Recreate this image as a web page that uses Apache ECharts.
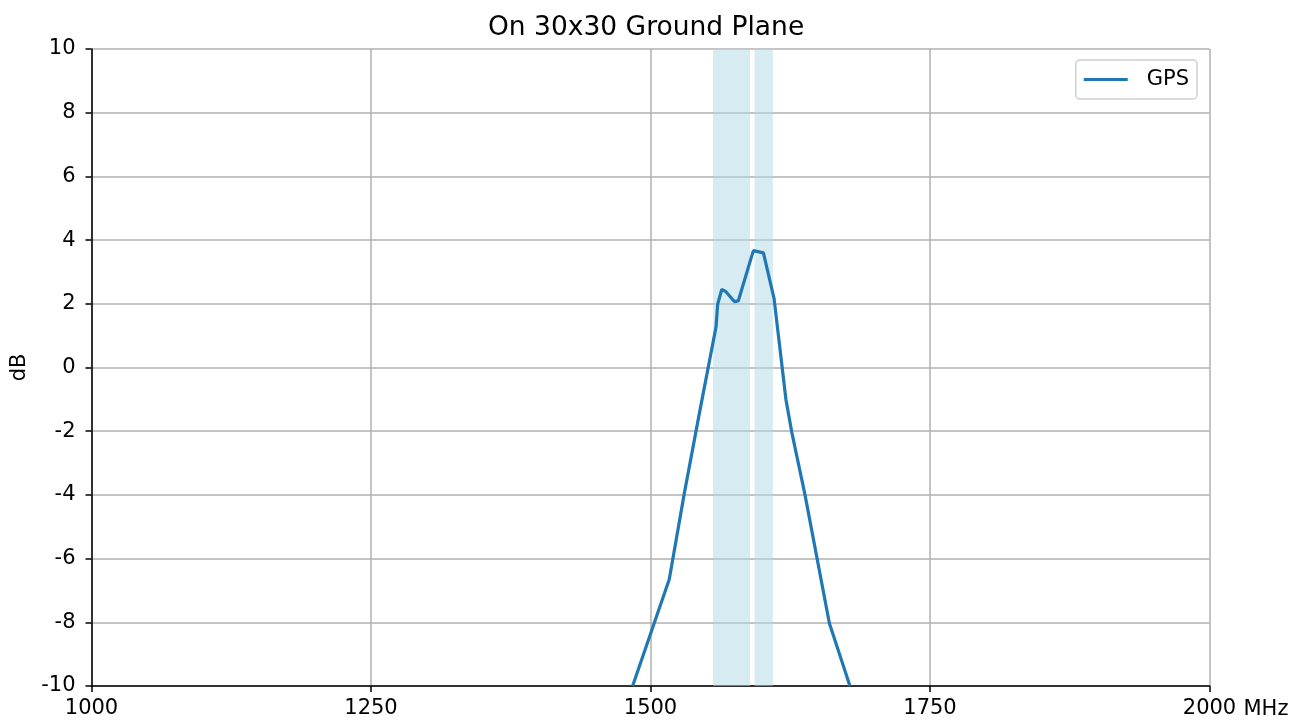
<!DOCTYPE html>
<html>
<head>
<meta charset="utf-8">
<script src="https://cdn.jsdelivr.net/npm/echarts@6/dist/echarts.min.js"></script>
<style>html,body{margin:0;padding:0;background:#fff;overflow:hidden}#c{width:100vw;height:100vh}</style>
</head>
<body>
<div id="c"></div>
<script>
const freqMHz = [1484, 1516.8, 1530, 1544.3, 1558.6, 1560.1, 1563.7, 1567.5, 1575, 1578.5, 1592, 1601, 1610.5, 1621.2, 1626.3, 1638.2, 1660, 1678.4];
const gpsDb   = [-10, -6.65, -4.0, -1.33, 1.27, 1.99, 2.45, 2.38, 2.07, 2.09, 3.67, 3.60, 2.17, -1.02, -2.02, -4.0, -8.03, -10];
const bands = [[1556, 1589], [1593, 1609.5]];
const xTicks = [1000, 1250, 1500, 1750, 2000];
const yTicks = [-10, -8, -6, -4, -2, 0, 2, 4, 6, 8, 10];

const font = 'DejaVu Sans';
const chart = echarts.init(document.getElementById('c'), null, {renderer: 'canvas'});
chart.setOption({
  animation: false,
  backgroundColor: '#fff',
  title: {
    text: 'On 30x30 Ground Plane', left: 483, top: 10,
    textStyle: {fontFamily: font, fontSize: 26.5, fontWeight: 'normal', color: '#000'}
  },
  legend: {
    data: ['GPS'], right: 109, top: 60,
    itemWidth: 44, itemHeight: 3, itemGap: 10,
    padding: [9, 8, 9, 8],
    borderColor: '#d0d0d0', borderWidth: 1.5, borderRadius: 4,
    textStyle: {fontFamily: font, fontSize: 21, color: '#000', padding: [0, 0, 0, 14]},
    icon: 'rect'
  },
  grid: {left: 91.5, right: 96.5, top: 49, bottom: 36, containLabel: false},
  xAxis: {
    type: 'value', min: xTicks[0], max: xTicks[xTicks.length - 1], interval: 250,
    name: 'MHz', nameLocation: 'end', nameGap: 34,
    nameTextStyle: {fontFamily: font, fontSize: 21, color: '#000', verticalAlign: 'top', padding: [13, 0, 0, 0]},
    axisLine: {show: true, onZero: false, lineStyle: {color: '#000', width: 1.5}},
    axisTick: {show: true, length: 6, lineStyle: {color: '#000', width: 1.5}},
    axisLabel: {fontFamily: font, fontSize: 21, color: '#000', margin: 12, formatter: v => String(v)},
    splitLine: {show: true, lineStyle: {color: '#b0b0b0', width: 1.5}}
  },
  yAxis: {
    type: 'value', min: yTicks[0], max: yTicks[yTicks.length - 1], interval: 2,
    name: 'dB', nameLocation: 'middle', nameGap: 58, nameRotate: 90,
    nameTextStyle: {fontFamily: font, fontSize: 21, color: '#000'},
    axisLine: {show: true, lineStyle: {color: '#000', width: 1.5}},
    axisTick: {show: true, length: 6, lineStyle: {color: '#000', width: 1.5}},
    axisLabel: {fontFamily: font, fontSize: 21, color: '#000', margin: 16, formatter: v => String(v)},
    splitLine: {show: true, lineStyle: {color: '#b0b0b0', width: 1.5}}
  },
  series: [{
    name: 'GPS', type: 'line', showSymbol: false, clip: true,
    data: freqMHz.map((f, i) => [f, gpsDb[i]]),
    lineStyle: {color: '#1f77b4', width: 3.2},
    itemStyle: {color: '#1f77b4'},
    markArea: {
      silent: true,
      itemStyle: {color: 'rgba(173,216,230,0.5)'},
      data: bands.map(b => [{xAxis: b[0]}, {xAxis: b[1]}])
    },
    z: 3
  }]
});
</script>
</body>
</html>
